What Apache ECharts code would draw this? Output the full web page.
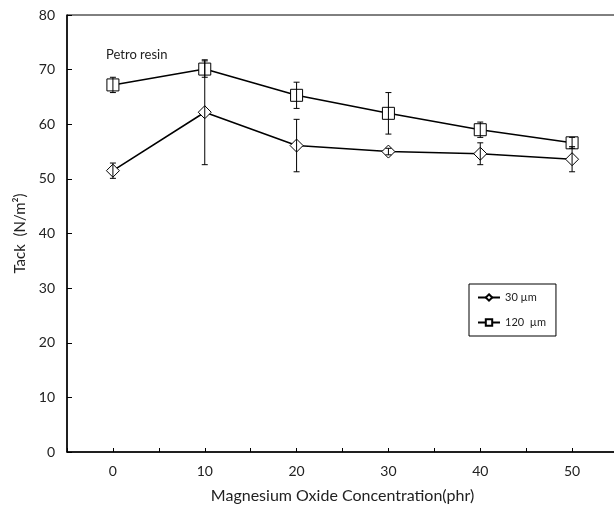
<!DOCTYPE html>
<html>
<head>
<meta charset="utf-8">
<script src="https://cdn.jsdelivr.net/npm/echarts@6/dist/echarts.min.js"></script>
<style>
  html, body { margin: 0; padding: 0; background: #fff; }
  #chart { width: 614px; height: 507px; }
</style>
</head>
<body>
<div id="chart"></div>
<script>
const concentration = [0, 10, 20, 30, 40, 50]
const tack30 = [51.5, 62.2, 56.1, 55.0, 54.6, 53.6]
const err30 = [1.4, 9.6, 4.8, 0.6, 2.0, 2.3]
const tack120 = [67.2, 70.1, 65.3, 62.0, 59.0, 56.6]
const err120 = [1.4, 1.5, 2.4, 3.8, 1.4, 1.0]
const seriesNames = ['30 µm', '120  µm']

const font = 'Lato, "Noto Sans", sans-serif'

const toPoints = (vals) => concentration.map((x, i) => [x, vals[i]])
const toBars = (vals, errs) => concentration.map((x, i) => [x, vals[i] - errs[i], vals[i] + errs[i]])

const renderErrorBar = (params, api) => {
  const x = api.value(0)
  const lo = api.coord([x, api.value(1)])
  const hi = api.coord([x, api.value(2)])
  const cap = 3
  const style = { stroke: '#000', lineWidth: 1 }
  return {
    type: 'group',
    children: [
      { type: 'line', shape: { x1: lo[0], y1: lo[1], x2: hi[0], y2: hi[1] }, style },
      { type: 'line', shape: { x1: lo[0] - cap, y1: lo[1], x2: lo[0] + cap, y2: lo[1] }, style },
      { type: 'line', shape: { x1: hi[0] - cap, y1: hi[1], x2: hi[0] + cap, y2: hi[1] }, style }
    ]
  }
}

const chart = echarts.init(document.getElementById('chart'))
const option = {
  animation: false,
  grid: {
    left: 67,
    top: 15,
    right: -4,
    bottom: 55,
    outerBoundsMode: 'none',
    containLabel: false,
    show: true,
    borderColor: '#000',
    borderWidth: 1
  },
  title: {
    text: 'Petro resin',
    left: 101,
    top: 43,
    textStyle: { fontFamily: font, fontSize: 13, fontWeight: 'normal', color: '#222' }
  },
  legend: {
    data: seriesNames,
    orient: 'vertical',
    left: 469,
    top: 284,
    padding: [8, 10, 8, 8],
    itemGap: 14,
    itemWidth: 22,
    itemHeight: 8,
    borderColor: '#000',
    borderWidth: 1,
    textStyle: { fontFamily: font, fontSize: 11, color: '#222' }
  },
  xAxis: {
    type: 'value',
    min: -5,
    max: 55,
    interval: 5,
    name: 'Magnesium Oxide Concentration(phr)',
    nameLocation: 'middle',
    nameGap: 36,
    nameTextStyle: { fontFamily: font, fontSize: 16, color: '#222' },
    axisLine: { onZero: false, lineStyle: { color: '#000', width: 1.5 } },
    axisTick: { inside: true, length: 4, lineStyle: { color: '#000' } },
    axisLabel: {
      fontFamily: font,
      fontSize: 14,
      color: '#222',
      margin: 12,
      formatter: (v) => (v >= 0 && v % 10 === 0 ? String(v) : '')
    },
    splitLine: { show: false }
  },
  yAxis: {
    type: 'value',
    min: 0,
    max: 80,
    interval: 10,
    name: 'Tack  (N/m²)',
    nameLocation: 'middle',
    nameGap: 38,
    nameTextStyle: { fontFamily: font, fontSize: 15, color: '#222' },
    axisLine: { show: true, onZero: false, lineStyle: { color: '#000', width: 1.5 } },
    axisTick: { show: true, inside: true, length: 5, lineStyle: { color: '#000' } },
    axisLabel: { fontFamily: font, fontSize: 14, color: '#222', margin: 12 },
    splitLine: { show: false }
  },
  series: [
    {
      name: seriesNames[0],
      type: 'line',
      data: toPoints(tack30),
      symbol: 'diamond',
      symbolSize: 13,
      lineStyle: { color: '#000', width: 1.6 },
      itemStyle: { color: '#fff', borderColor: '#000', borderWidth: 1 },
      z: 3
    },
    {
      name: seriesNames[1],
      type: 'line',
      data: toPoints(tack120),
      symbol: 'rect',
      symbolSize: 12,
      lineStyle: { color: '#000', width: 1.6 },
      itemStyle: { color: '#fff', borderColor: '#000', borderWidth: 1 },
      z: 3
    },
    {
      type: 'custom',
      data: toBars(tack30, err30),
      renderItem: renderErrorBar,
      z: 4
    },
    {
      type: 'custom',
      data: toBars(tack120, err120),
      renderItem: renderErrorBar,
      z: 4
    }
  ]
}
chart.setOption(option)
</script>
</body>
</html>
